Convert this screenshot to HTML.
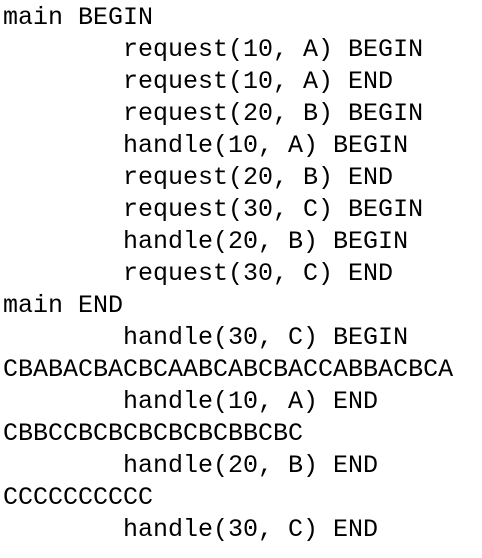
<!DOCTYPE html>
<html><head><meta charset="utf-8"><style>
html,body{margin:0;padding:0;background:#fff;width:482px;height:558px;overflow:hidden}
pre{margin:0;padding:2px 0 0 3px;font-family:"Liberation Mono",monospace;font-size:25px;line-height:32px;color:#000}
</style></head><body><pre>main BEGIN
        request(10, A) BEGIN
        request(10, A) END
        request(20, B) BEGIN
        handle(10, A) BEGIN
        request(20, B) END
        request(30, C) BEGIN
        handle(20, B) BEGIN
        request(30, C) END
main END
        handle(30, C) BEGIN
CBABACBACBCAABCABCBACCABBACBCA
        handle(10, A) END
CBBCCBCBCBCBCBCBBCBC
        handle(20, B) END
CCCCCCCCCC
        handle(30, C) END</pre></body></html>
